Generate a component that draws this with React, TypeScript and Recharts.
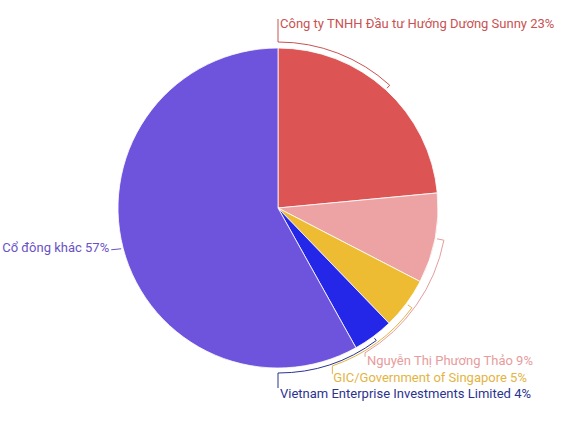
import React from 'react';
import { PieChart, Pie, Cell } from 'recharts';

// 株主構成（値は図から読み取り）
const HOLDERS = [
  'Công ty TNHH Đầu tư Hướng Dương Sunny',
  'Nguyễn Thị Phương Thảo',
  'GIC/Government of Singapore',
  'Vietnam Enterprise Investments Limited',
  'Cổ đông khác',
];
const SHARES = [23.5, 9.1, 5.2, 4.1, 58.1];
const SHARE_LABELS = ['23%', '9%', '5%', '4%', '57%'];

const SLICE_COLORS = ['#DC5454', '#EDA3A3', '#EDBC32', '#2527E8', '#6E54DC'];
const LABEL_COLORS = ['#C95252', '#E79C9C', '#E4B443', '#2B3390', '#6A52C6'];

// ラベルの配置（円弧の終点角度・半径、そこからの引き出し線）
type LabelLayout = {
  angle: number | null;
  r: number;
  dx: number;
  dy: number;
  tx: number;
  ty: number;
  anchor: 'start' | 'end';
};
const LABEL_LAYOUT: LabelLayout[] = [
  { angle: 90, r: 166, dx: 0, dy: -23, tx: 2, ty: 4, anchor: 'start' },
  { angle: -59, r: 169, dx: 0, dy: 4, tx: 2, ty: 4, anchor: 'start' },
  { angle: -71, r: 167, dx: 0, dy: 8, tx: 1, ty: 4, anchor: 'start' },
  { angle: -90, r: 165, dx: 0, dy: 15, tx: 2, ty: 5, anchor: 'start' },
  { angle: null, r: 162, dx: -10, dy: 1, tx: -2, ty: -2, anchor: 'end' },
];

const data = HOLDERS.map((name, i) => ({ name, value: SHARES[i] }));

const RAD = Math.PI / 180;

function renderLabel(props: any) {
  const { cx, cy, midAngle, outerRadius, index } = props;
  const lay = LABEL_LAYOUT[index];
  const color = LABEL_COLORS[index];
  const pt = (a: number, r: number) => [cx + r * Math.cos(-a * RAD), cy + r * Math.sin(-a * RAD)];

  const [sx, sy] = pt(midAngle, outerRadius + 2);
  const [ax, ay] = pt(midAngle, lay.r);
  let d = `M${sx},${sy} L${ax},${ay}`;
  let bx = ax;
  let by = ay;
  if (lay.angle != null) {
    [bx, by] = pt(lay.angle, lay.r);
    const sweep = lay.angle > midAngle ? 0 : 1;
    d += ` A${lay.r},${lay.r} 0 0 ${sweep} ${bx},${by}`;
  }
  const ex = bx + lay.dx;
  const ey = by + lay.dy;
  d += ` L${ex},${ey}`;

  return (
    <g key={`label-${index}`}>
      <path d={d} stroke={color} strokeWidth={1} fill="none" />
      <text
        x={ex + lay.tx}
        y={ey + lay.ty}
        fill={color}
        fontSize={13}
        fontFamily="Roboto, sans-serif"
        textAnchor={lay.anchor}
        dominantBaseline="central"
      >
        {`${HOLDERS[index]} ${SHARE_LABELS[index]}`}
      </text>
    </g>
  );
}

export default function App() {
  return (
    <div style={{ position: 'absolute', left: 0, top: 0, width: 564, height: 440, background: '#fff' }}>
      <PieChart width={564} height={440} margin={{ top: 0, right: 0, bottom: 0, left: 0 }}>
        <Pie
          data={data}
          dataKey="value"
          nameKey="name"
          cx={278}
          cy={208}
          outerRadius={160}
          startAngle={90}
          endAngle={-270}
          stroke="#ffffff"
          strokeWidth={0.8}
          label={renderLabel}
          labelLine={false}
          isAnimationActive={false}
        >
          {data.map((_, i) => (
            <Cell key={`cell-${i}`} fill={SLICE_COLORS[i]} />
          ))}
        </Pie>
      </PieChart>
    </div>
  );
}
